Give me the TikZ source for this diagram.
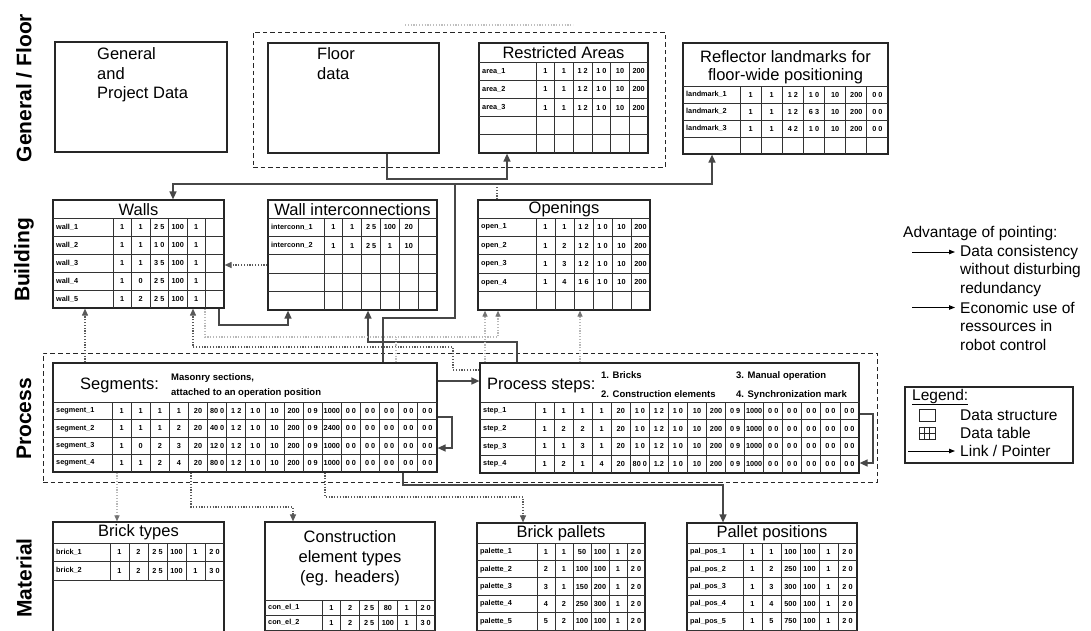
\documentclass[tikz,border=0pt]{standalone}
\usepackage{fontspec}
\setmainfont{Liberation Sans}
\usetikzlibrary{arrows.meta,fit}

\tikzset{
  frame/.style={draw=black!85, line width=1.2pt, inner sep=0pt},
  gridline/.style={draw=black!80, line width=0.8pt},
  group/.style={draw=black!85, line width=1pt, dash pattern=on 4.5pt off 3pt, inner sep=0pt},
  link/.style={draw=black!72, line width=1.4pt, -{Triangle[length=8pt,width=7pt]}},
  dotlink/.style={draw=black!65, line width=1.1pt, dash pattern=on 1.2pt off 1.6pt, -{Triangle[length=7pt,width=6pt]}},
  faintlink/.style={draw=black!28, line width=1.1pt, dash pattern=on 1.2pt off 1.6pt, -{Triangle[length=6pt,width=5pt,color=black!55]}},
  faint/.style={draw=black!25, line width=1.1pt, dash pattern=on 1.2pt off 1.6pt},
  thinlink/.style={draw=black, line width=0.9pt, -{Triangle[length=6pt,width=4.5pt]}},
  cell/.style={font=\fontsize{7.3}{8}\selectfont\bfseries, inner sep=0pt},
  ttl/.style={font=\fontsize{16.5}{19}\selectfont, inner sep=0pt},
  big/.style={font=\fontsize{16.5}{19}\selectfont, inner sep=0pt, anchor=base west},
  sub/.style={font=\fontsize{9.5}{11}\selectfont\bfseries, inner sep=0pt, anchor=base west},
  rowlabel/.style={font=\fontsize{21}{24}\selectfont\bfseries, rotate=90, inner sep=0pt},
  note/.style={font=\fontsize{15.5}{18}\selectfont, anchor=west, inner sep=0pt},
  symbol/.style={draw=black!85, line width=1pt, minimum width=16pt, minimum height=12pt, inner sep=0pt},
}

% outline of a data structure / table
\newcommand\tbox[5]{%
  \coordinate (#1-nw) at (#2,#3);
  \coordinate (#1-se) at (#4,#5);
  \node[frame, fit=(#1-nw)(#1-se)] (#1) {};}

% grid of a data table: x0, x1, title bottom, bottom, label column edge, columns, rows
\newcommand\tgrid[7]{%
  \draw[gridline] (#1,#3) -- (#2,#3);
  \draw[gridline] (#5,#3) -- (#5,#4);
  \pgfmathtruncatemacro\tgrows{#7-1}%
  \pgfmathtruncatemacro\tgcols{#6-1}%
  \foreach \i in {1,...,\tgrows}{\draw[gridline] (#1,{#3+\i*(#4-#3)/#7}) -- (#2,{#3+\i*(#4-#3)/#7});}
  \foreach \j in {1,...,\tgcols}{\draw[gridline] ({#5+\j*(#2-#5)/#6},#3) -- ({#5+\j*(#2-#5)/#6},#4);}
}

% one filled table row: table, row no., x0, row centre, label column edge, column width, label, values
\newcommand\trow[8]{%
  \node[cell, anchor=west] (#1-l#2) at (#3+3,#4) {#7};
  \foreach \v [count=\c] in {#8}{\node[cell] (#1-#2-\c) at ({#5+(\c-0.5)*#6},#4) {\v};}
}

\begin{document}
\begin{tikzpicture}[x=1pt,y=-1pt]
\useasboundingbox (0,0) rectangle (1091,630);
\clip (0,0) rectangle (1091,630);

% ---------- row labels ----------
\node[rowlabel] (lab-floor) at (24,88) {General / Floor};
\node[rowlabel] (lab-bldg) at (24,260) {Building};
\node[rowlabel] (lab-proc) at (24,419) {Process};
\node[rowlabel] (lab-mat) at (24,578) {Material};

% ---------- general / floor ----------
\tbox{gen}{55}{42}{227}{152}
\node[big] (gen-1) at (97,59) {General};
\node[big] (gen-2) at (97,79) {and};
\node[big] (gen-3) at (97,98) {Project Data};

\coordinate (fg-nw) at (253,32);
\coordinate (fg-se) at (665,167);
\node[group, fit=(fg-nw)(fg-se)] (floorgrp) {};

\tbox{floor}{268}{43}{439}{153}
\node[big] (floor-1) at (317,59) {Floor};
\node[big] (floor-2) at (317,79) {data};

\tbox{ra}{479}{43}{648}{153}
\tgrid{479}{648}{62}{153}{536}{6}{5}
\node[ttl] (ra-t) at (563.5,53) {Restricted Areas};
\trow{ra}{1}{479}{71.1}{536}{112/6}{area\_1}{1,1,1 2,1 0,10,200}
\trow{ra}{2}{479}{89.3}{536}{112/6}{area\_2}{1,1,1 2,1 0,10,200}
\trow{ra}{3}{479}{107.5}{536}{112/6}{area\_3}{1,1,1 2,1 0,10,200}

\tbox{refl}{683}{43}{888}{154}
\tgrid{683}{888}{86}{154}{740}{7}{4}
\node[ttl] (refl-t1) at (785.5,57) {Reflector landmarks for};
\node[ttl] (refl-t2) at (785.5,76) {floor-wide positioning};
\trow{refl}{1}{683}{94.5}{740}{148/7}{landmark\_1}{1,1,1 2,1 0,10,200,0 0}
\trow{refl}{2}{683}{111.5}{740}{148/7}{landmark\_2}{1,1,1 2,6 3,10,200,0 0}
\trow{refl}{3}{683}{128.5}{740}{148/7}{landmark\_3}{1,1,4 2,1 0,10,200,0 0}

% ---------- building ----------
\tbox{walls}{53}{200}{224}{308}
\tgrid{53}{224}{218}{308}{113}{6}{5}
\node[ttl] (walls-t) at (138.5,209.5) {Walls};
\trow{walls}{1}{53}{227}{113}{111/6}{wall\_1}{1,1,2 5,100,1}
\trow{walls}{2}{53}{245}{113}{111/6}{wall\_2}{1,1,1 0,100,1}
\trow{walls}{3}{53}{263}{113}{111/6}{wall\_3}{1,1,3 5,100,1}
\trow{walls}{4}{53}{281}{113}{111/6}{wall\_4}{1,0,2 5,100,1}
\trow{walls}{5}{53}{299}{113}{111/6}{wall\_5}{1,2,2 5,100,1}

\tbox{wint}{268}{200}{437}{310}
\tgrid{268}{437}{218}{310}{324}{6}{5}
\node[ttl] (wint-t) at (352.5,209.5) {Wall interconnections};
\trow{wint}{1}{268}{227.2}{324}{113/6}{interconn\_1}{1,1,2 5,100,20}
\trow{wint}{2}{268}{245.6}{324}{113/6}{interconn\_2}{1,1,2 5,1,10}

\tbox{open}{478}{200}{650}{310}
\tgrid{478}{650}{218}{310}{536}{6}{5}
\node[ttl] (open-t) at (564,209.5) {Openings};
\trow{open}{1}{478}{227.2}{536}{114/6}{open\_1}{1,1,1 2,1 0,10,200}
\trow{open}{2}{478}{245.6}{536}{114/6}{open\_2}{1,2,1 2,1 0,10,200}
\trow{open}{3}{478}{264}{536}{114/6}{open\_3}{1,3,1 2,1 0,10,200}
\trow{open}{4}{478}{282.4}{536}{114/6}{open\_4}{1,4,1 6,1 0,10,200}

% advantage notes
\node[note] (adv) at (903,233) {Advantage of pointing:};
\coordinate (adv-a1) at (912,252);
\coordinate (adv-a2) at (955,252);
\draw[thinlink] (adv-a1) -- (adv-a2);
\node[note] (adv-1) at (960,252) {Data consistency};
\node[note] (adv-2) at (960,270.5) {without disturbing};
\node[note] (adv-3) at (960,289) {redundancy};
\coordinate (adv-b1) at (912,307.5);
\coordinate (adv-b2) at (955,307.5);
\draw[thinlink] (adv-b1) -- (adv-b2);
\node[note] (adv-4) at (960,307.5) {Economic use of};
\node[note] (adv-5) at (960,326) {ressources in};
\node[note] (adv-6) at (960,344.5) {robot control};

% ---------- process ----------
\coordinate (pg-nw) at (43,353);
\coordinate (pg-se) at (877,482);
\node[group, fit=(pg-nw)(pg-se)] (procgrp) {};

\tbox{seg}{53}{363}{437}{472}
\tgrid{53}{437}{402}{472}{112}{17}{4}
\node[big] (seg-t) at (80,389) {Segments:};
\node[sub] (seg-s1) at (171,380) {Masonry sections,};
\node[sub] (seg-s2) at (171,395) {attached to an operation position};
\trow{seg}{1}{53}{410.75}{112}{325/17}{segment\_1}{1,1,1,1,20,80 0,1 2,1 0,10,200,0 9,1000,0 0,0 0,0 0,0 0,0 0}
\trow{seg}{2}{53}{428.25}{112}{325/17}{segment\_2}{1,1,1,2,20,40 0,1 2,1 0,10,200,0 9,2400,0 0,0 0,0 0,0 0,0 0}
\trow{seg}{3}{53}{445.75}{112}{325/17}{segment\_3}{1,0,2,3,20,12 0,1 2,1 0,10,200,0 9,1000,0 0,0 0,0 0,0 0,0 0}
\trow{seg}{4}{53}{463.25}{112}{325/17}{segment\_4}{1,1,2,4,20,80 0,1 2,1 0,10,200,0 9,1000,0 0,0 0,0 0,0 0,0 0}

\tbox{steps}{480}{363}{859}{473}
\tgrid{480}{859}{402}{473}{535}{17}{4}
\node[big] (steps-t) at (487,389) {Process steps:};
\begin{scope}
  \clip (480,363) rectangle (859,402);
  \node[sub] (steps-s1) at (601,378) {1. Bricks};
  \node[sub] (steps-s2) at (601,397) {2. Construction elements};
  \node[sub] (steps-s3) at (736,378) {3. Manual operation};
  \node[sub] (steps-s4) at (736,397) {4. Synchronization mark};
\end{scope}
\trow{steps}{1}{480}{410.9}{535}{324/17}{step\_1}{1,1,1,1,20,1 0,1 2,1 0,10,200,0 9,1000,0 0,0 0,0 0,0 0,0 0}
\trow{steps}{2}{480}{428.6}{535}{324/17}{step\_2}{1,2,2,1,20,1 0,1 2,1 0,10,200,0 9,1000,0 0,0 0,0 0,0 0,0 0}
\trow{steps}{3}{480}{446.4}{535}{324/17}{step\_3}{1,1,3,1,20,1 0,1 2,1 0,10,200,0 9,1000,0 0,0 0,0 0,0 0,0 0}
\trow{steps}{4}{480}{464.1}{535}{324/17}{step\_4}{1,2,1,4,20,80 0,1.2,1 0,10,200,0 9,1000,0 0,0 0,0 0,0 0,0 0}

% legend
\tbox{legend}{905}{387}{1073}{463}
\node[note] (leg-t) at (912,397) {\underline{Legend:}};
\node[symbol] (leg-ds) at (927,415) {};
\node[symbol] (leg-dt) at (927,433) {};
\draw[black!85, line width=0.7pt]
  ([xshift=-2.7pt]leg-dt.north) -- ([xshift=-2.7pt]leg-dt.south)
  ([xshift=2.7pt]leg-dt.north) -- ([xshift=2.7pt]leg-dt.south)
  (leg-dt.west) -- (leg-dt.east);
\coordinate (leg-a1) at (908,451);
\coordinate (leg-a2) at (955,451);
\draw[thinlink] (leg-a1) -- (leg-a2);
\node[note] (leg-1) at (960,415) {Data structure};
\node[note] (leg-2) at (960,433) {Data table};
\node[note] (leg-3) at (960,451) {Link / Pointer};

% ---------- material ----------
\tbox{brick}{53}{522}{224}{645}
\tgrid{53}{224}{543}{580}{110}{6}{2}
\draw[gridline] (53,580) -- (224,580);
\node[ttl] (brick-t) at (138.5,532.5) {Brick types};
\trow{brick}{1}{53}{552.25}{110}{114/6}{brick\_1}{1,2,2 5,100,1,2 0}
\trow{brick}{2}{53}{570.75}{110}{114/6}{brick\_2}{1,2,2 5,100,1,3 0}

\tbox{conel}{265}{522}{435}{645}
\tgrid{265}{435}{600}{645}{322}{6}{3}
\node[ttl] (conel-t1) at (350,537) {Construction};
\node[ttl] (conel-t2) at (350,558) {element types};
\node[ttl] (conel-t3) at (350,578) {(eg. headers)};
\trow{conel}{1}{265}{607.5}{322}{113/6}{con\_el\_1}{1,2,2 5,80,1,2 0}
\trow{conel}{2}{265}{622.5}{322}{113/6}{con\_el\_2}{1,2,2 5,100,1,3 0}

\tbox{bp}{477}{523}{645}{648}
\tgrid{477}{645}{543}{647.4}{537}{6}{6}
\node[ttl] (bp-t) at (561,533) {Brick pallets};
\trow{bp}{1}{477}{551.7}{537}{108/6}{palette\_1}{1,1,50,100,1,2 0}
\trow{bp}{2}{477}{569.1}{537}{108/6}{palette\_2}{2,1,100,100,1,2 0}
\trow{bp}{3}{477}{586.5}{537}{108/6}{palette\_3}{3,1,150,200,1,2 0}
\trow{bp}{4}{477}{603.9}{537}{108/6}{palette\_4}{4,2,250,300,1,2 0}
\trow{bp}{5}{477}{621.3}{537}{108/6}{palette\_5}{5,2,100,100,1,2 0}

\tbox{pp}{687}{523}{857}{648}
\tgrid{687}{857}{543}{647.4}{743}{6}{6}
\node[ttl] (pp-t) at (772,533) {Pallet positions};
\trow{pp}{1}{687}{551.7}{743}{114/6}{pal\_pos\_1}{1,1,100,100,1,2 0}
\trow{pp}{2}{687}{569.1}{743}{114/6}{pal\_pos\_2}{1,2,250,100,1,2 0}
\trow{pp}{3}{687}{586.5}{743}{114/6}{pal\_pos\_3}{1,3,300,100,1,2 0}
\trow{pp}{4}{687}{603.9}{743}{114/6}{pal\_pos\_4}{1,4,500,100,1,2 0}
\trow{pp}{5}{687}{621.3}{743}{114/6}{pal\_pos\_5}{1,5,750,100,1,2 0}

% ---------- links ----------
\draw[link] (floor.south -| 387,0) |- (507,179) -- (ra.south -| 507,0);

\coordinate (jn) at (455,184);
\draw[link] (seg.north -| 383,0) |- (455,318) -- (jn) -| (walls.north -| 173,0);
\draw[link] (jn) -| (refl.south -| 712,0);

\draw[link] (walls.south -| 219,0) |- (288,325) -- (wint.south -| 288,0);
\draw[link] (steps.north -| 517,0) |- (368,342) -- (wint.south -| 368,0);

\draw[link] (seg.east |- 0,381) -- (steps.west |- 0,381);
\draw[link] (seg.east |- 0,417) -- (452,417) -- (452,448) -- (seg.east |- 0,448);
\draw[link] (steps.east |- 0,414) -- (873,414) -- (873,463) -- (steps.east |- 0,463);

\draw[link] (seg.south -| 403,0) |- (723,485) -- (pp.north -| 723,0);

% dotted links
\draw[dotlink] (seg.north -| 85,0) -- (walls.south -| 85,0);
\draw[dotlink] (wint.west |- 0,265) -- (walls.east |- 0,265);
\draw[dotlink] (steps.west |- 0,370) -- (453,370) |- (193,347) -- (walls.south -| 193,0);
\draw[dotlink] (seg.south -| 191,0) |- (293,507) -- (conel.north -| 293,0);
\draw[dotlink] (seg.south -| 325,0) |- (523,497) -- (bp.north -| 523,0);
\draw[dotlink, -] (open.north -| 497,0) -- (497,186);

% faint links
\draw[faintlink] (seg.south -| 117,0) -- (brick.north -| 117,0);
\draw[faintlink] (walls.south -| 205,0) |- (498,337) -- (open.south -| 498,0);
\draw[faint] (seg.north -| 396,0) -- (396,337);
\draw[faintlink] (steps.north -| 485,0) -- (open.south -| 485,0);
\draw[faintlink] (steps.north -| 580,0) -- (open.south -| 580,0);
\coordinate (ft1) at (405,25);
\coordinate (ft2) at (573,25);
\draw[faint] (ft1) -- (ft2);
\end{tikzpicture}
\end{document}
